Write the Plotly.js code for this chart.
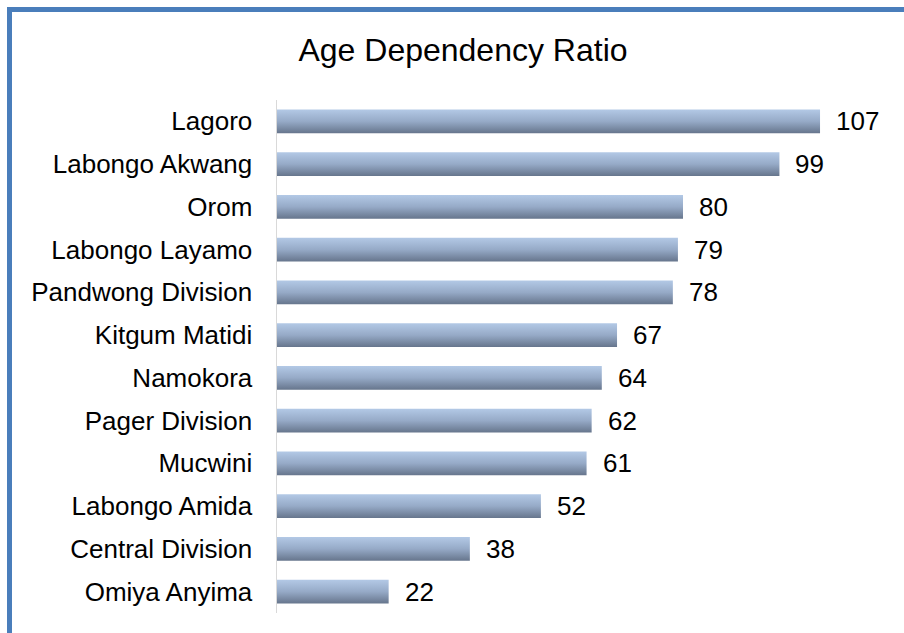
<!DOCTYPE html>
<html>
<head>
<meta charset="utf-8">
<script src="https://cdn.plot.ly/plotly-3.0.1.min.js"></script>
<style>
html,body{margin:0;padding:0;background:#fff;}
#chart{width:904px;height:633px;}
</style>
</head>
<body>
<div id="chart"></div>
<script>
const categories = ["Lagoro","Labongo Akwang","Orom","Labongo Layamo","Pandwong Division","Kitgum Matidi","Namokora","Pager Division","Mucwini","Labongo Amida","Central Division","Omiya Anyima"];
const ratios = [107, 99, 80, 79, 78, 67, 64, 62, 61, 52, 38, 22];
const chartTitle = "Age Dependency Ratio";

const FONT = "Liberation Sans, Arial, sans-serif";

const trace = {
  type: "bar",
  orientation: "h",
  x: ratios,
  y: categories,
  marker: {color: "#92a6c3", line: {width: 0}},
  hoverinfo: "none"
};

const annotations = categories.map((c, i) => ({
  x: ratios[i], y: c, xref: "x", yref: "y",
  text: String(ratios[i]), showarrow: false,
  xanchor: "left", yanchor: "middle", xshift: 14,
  font: {family: FONT, size: 26, color: "#000"}
}));

// plot area: x 277..886 px, y 100..612.6 px
const L = 277, R = 18, T = 100, B = 20.4;
const pw = 904 - L - R, ph = 633 - T - B;
function px2paperX(px){ return (px - L) / pw; }
function px2paperY(py){ return (633 - B - py) / ph; }

const layout = {
  width: 904, height: 633,
  margin: {l: L, r: R, t: T, b: B, pad: 0},
  paper_bgcolor: "#fff", plot_bgcolor: "#fff",
  showlegend: false,
  bargap: 0.44,
  title: {text: chartTitle, font: {family: FONT, size: 32, color: "#000"}, x: 463/904, xanchor: "center", y: 1 - 50/633, yanchor: "middle"},
  xaxis: {range: [0, 120], showgrid: false, zeroline: false, showline: false, showticklabels: false, ticks: "", fixedrange: true},
  yaxis: {autorange: "reversed", showgrid: false, zeroline: false, showline: true, linecolor: "#d9d9d9", linewidth: 1.5,
          ticks: "", ticklabelstandoff: 18, tickfont: {family: FONT, size: 26, color: "#000"}, fixedrange: true},
  annotations: annotations,
  shapes: [{
    type: "rect", xref: "paper", yref: "paper", layer: "above",
    x0: px2paperX(9.5), x1: px2paperX(1000), y0: px2paperY(700), y1: px2paperY(9.5),
    line: {color: "#4a7ebb", width: 5}, fillcolor: "rgba(0,0,0,0)"
  }]
};

Plotly.newPlot("chart", [trace], layout, {displayModeBar: false, staticPlot: true}).then(gd => {
  const svg = gd.querySelector("svg.main-svg");
  const ns = "http://www.w3.org/2000/svg";
  let defs = svg.querySelector("defs");
  if (!defs) { defs = document.createElementNS(ns, "defs"); svg.insertBefore(defs, svg.firstChild); }
  const grad = document.createElementNS(ns, "linearGradient");
  grad.setAttribute("id", "barGrad");
  grad.setAttribute("x1", "0"); grad.setAttribute("y1", "0");
  grad.setAttribute("x2", "0"); grad.setAttribute("y2", "1");
  [["0", "#b3c9e6"], ["0.5", "#96aac7"], ["1", "#66758c"]].forEach(([o, c]) => {
    const s = document.createElementNS(ns, "stop");
    s.setAttribute("offset", o); s.setAttribute("stop-color", c);
    grad.appendChild(s);
  });
  defs.appendChild(grad);
  gd.querySelectorAll(".barlayer .point path").forEach(p => { p.style.fill = "url(#barGrad)"; });
});
</script>
</body>
</html>
